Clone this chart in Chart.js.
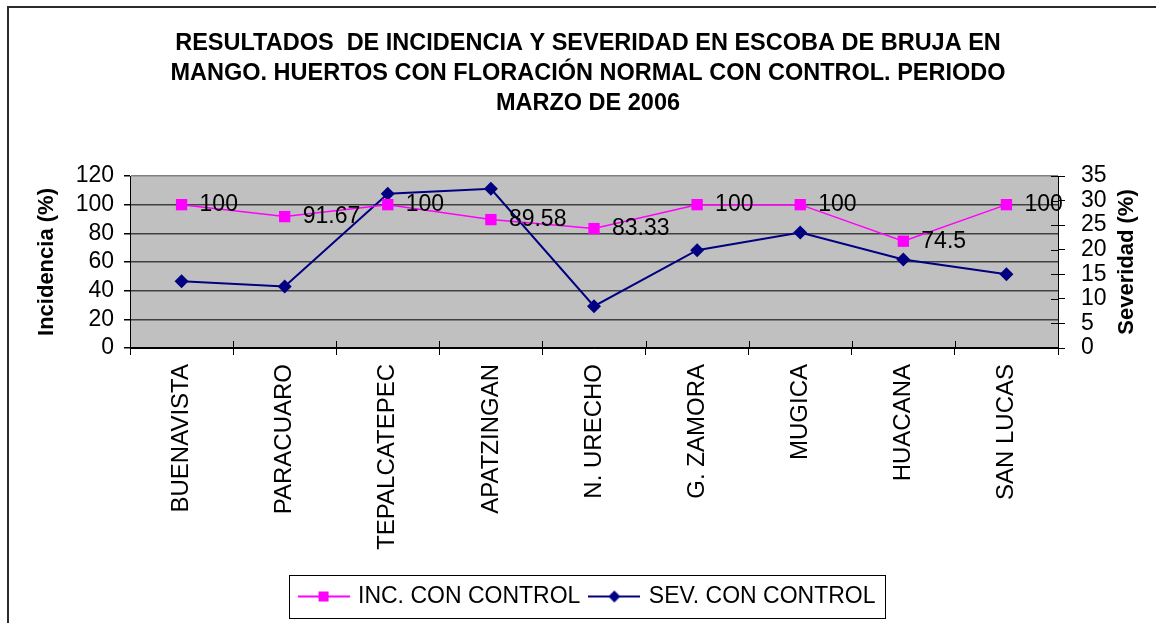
<!DOCTYPE html>
<html><head><meta charset="utf-8">
<script src="https://cdn.jsdelivr.net/npm/chart.js@4.4.1/dist/chart.umd.min.js"></script>
<style>html,body{margin:0;padding:0;background:#fff;} canvas{display:block;}</style>
</head><body>
<canvas id="c" width="1156" height="623"></canvas>
<script>
const categories = ['BUENAVISTA','PARACUARO','TEPALCATEPEC','APATZINGAN','N. URECHO','G. ZAMORA','MUGICA','HUACANA','SAN LUCAS'];
const incidencia = [100, 91.67, 100, 89.58, 83.33, 100, 100, 74.5, 100];
const severidad = [13.6, 12.5, 31.4, 32.4, 8.5, 19.9, 23.5, 18.0, 15.0];
const seriesNames = ['INC. CON CONTROL', 'SEV. CON CONTROL'];
const titleLines = ['RESULTADOS  DE INCIDENCIA Y SEVERIDAD EN ESCOBA DE BRUJA EN', 'MANGO. HUERTOS CON FLORACIÓN NORMAL CON CONTROL. PERIODO', 'MARZO DE 2006'];
const leftAxisTitle = 'Incidencia (%)';
const rightAxisTitle = 'Severidad (%)';
const leftRange = [0, 120, 20];
const rightRange = [0, 35, 5];

const FAMILY = '"Liberation Sans", Arial, sans-serif';
Chart.defaults.font.family = FAMILY;
Chart.defaults.color = '#000';

const INC_COLOR = '#FF00FF';
const SEV_COLOR = '#000080';

function legendIcon(color, shape) {
  const c = document.createElement('canvas');
  c.width = 52; c.height = 16;
  const g = c.getContext('2d');
  g.strokeStyle = color; g.lineWidth = 2;
  g.beginPath(); g.moveTo(0, 8); g.lineTo(52, 8); g.stroke();
  g.fillStyle = color;
  if (shape === 'rect') { g.fillRect(21, 3, 10, 10); }
  else { g.beginPath(); g.moveTo(26, 2); g.lineTo(32, 8); g.lineTo(26, 14); g.lineTo(20, 8); g.closePath(); g.fill(); }
  return c;
}

const decorations = {
  id: 'decorations',
  beforeDraw(chart) {
    const {ctx, chartArea: a} = chart;
    ctx.save();
    ctx.fillStyle = '#fff';
    ctx.fillRect(0, 0, chart.width, chart.height);
    ctx.fillStyle = '#C0C0C0';
    ctx.fillRect(a.left, a.top, a.right - a.left, a.bottom - a.top);
    ctx.strokeStyle = '#2b2b2b'; ctx.lineWidth = 2;
    ctx.beginPath(); ctx.moveTo(8, chart.height); ctx.lineTo(8, 7); ctx.lineTo(chart.width, 7); ctx.stroke();
    ctx.restore();
  },
  beforeDatasetsDraw(chart) {
    const {ctx, chartArea: a} = chart;
    const xs = chart.scales.x, yr = chart.scales.y1;
    ctx.save();
    ctx.strokeStyle = '#000'; ctx.lineWidth = 1;
    ctx.beginPath();
    for (let i = 0; i <= categories.length; i++) {
      const px = Math.round(xs.getPixelForValue(i - 0.5)) + 0.5;
      ctx.moveTo(px, a.bottom - 7); ctx.lineTo(px, a.bottom);
    }
    yr.ticks.forEach(t => {
      const py = Math.round(yr.getPixelForValue(t.value)) + 0.5;
      ctx.moveTo(a.right - 7, py); ctx.lineTo(a.right, py);
    });
    ctx.stroke();
    ctx.restore();
  },
  afterDatasetsDraw(chart) {
    const ctx = chart.ctx;
    const meta = chart.getDatasetMeta(0);
    const ds = chart.data.datasets[0];
    ctx.save();
    ctx.font = '23px ' + FAMILY;
    ctx.fillStyle = '#000'; ctx.textAlign = 'left'; ctx.textBaseline = 'middle';
    meta.data.forEach((pt, i) => { ctx.fillText(String(ds.data[i]), pt.x + 18, pt.y); });
    ctx.restore();
  },
  afterDraw(chart) {
    const {ctx, chartArea: a} = chart;
    ctx.save();
    ctx.font = 'bold 22px ' + FAMILY;
    ctx.fillStyle = '#000'; ctx.textAlign = 'center'; ctx.textBaseline = 'middle';
    ctx.translate(1127, (a.top + a.bottom) / 2);
    ctx.rotate(-Math.PI / 2);
    ctx.fillText(rightAxisTitle, 0, 0);
    ctx.restore();
    const hb = chart.legend.legendHitBoxes;
    if (hb && hb.length) {
      const l = Math.min(...hb.map(h => h.left)) - 12;
      const r = Math.max(...hb.map(h => h.left + h.width)) + 9;
      const t = hb[0].top - 10, b = hb[0].top + hb[0].height + 10;
      ctx.save();
      ctx.strokeStyle = '#000'; ctx.lineWidth = 1;
      ctx.strokeRect(Math.round(l) + 0.5, Math.round(t) + 0.5, Math.round(r - l), Math.round(b - t));
      ctx.restore();
    }
  }
};

const icons = [legendIcon(INC_COLOR, 'rect'), legendIcon(SEV_COLOR, 'diamond')];

new Chart(document.getElementById('c'), {
  type: 'line',
  data: {
    labels: categories,
    datasets: [
      { label: seriesNames[0], data: incidencia, yAxisID: 'y', borderColor: INC_COLOR, backgroundColor: INC_COLOR,
        borderWidth: 1.5, pointStyle: 'rect', pointRadius: 8, pointBorderWidth: 0, tension: 0 },
      { label: seriesNames[1], data: severidad, yAxisID: 'y1', borderColor: SEV_COLOR, backgroundColor: SEV_COLOR,
        borderWidth: 2, pointStyle: 'rectRot', pointRadius: 7, pointBorderWidth: 0, tension: 0 }
    ]
  },
  options: {
    responsive: false, animation: false, devicePixelRatio: 1, events: [],
    layout: { padding: { left: 20, right: 0, top: 0, bottom: 5 } },
    plugins: {
      tooltip: { enabled: false },
      title: { display: true, text: titleLines, color: '#000',
        font: { size: 23.5, weight: 'bold', lineHeight: '30px' }, padding: { top: 29, bottom: 57 } },
      legend: { position: 'bottom', align: 'center',
        labels: { usePointStyle: true, pointStyleWidth: 46, boxHeight: 16, padding: 11, color: '#000',
          font: { size: 23 },
          generateLabels: (chart) => seriesNames.map((n, i) => ({ text: n, pointStyle: icons[i], fillStyle: 'transparent',
            strokeStyle: 'transparent', lineWidth: 0, hidden: false, datasetIndex: i, fontColor: '#000' })) } }
    },
    scales: {
      x: { type: 'category', offset: true,
        grid: { display: true, offset: true, drawOnChartArea: false, drawTicks: true, tickLength: 7, color: '#000', lineWidth: 1 },
        border: { display: true, color: '#000', width: 1 },
        ticks: { autoSkip: false, minRotation: 90, maxRotation: 90, padding: 9, color: '#000', font: { size: 24 } },
        afterFit(s) { s.height = 226; } },
      y: { position: 'left', min: leftRange[0], max: leftRange[1],
        ticks: { autoSkip: false, stepSize: leftRange[2], padding: 10, color: '#000', font: { size: 23 } },
        grid: { color: c => (c.tick && c.tick.value === leftRange[1]) ? '#808080' : (c.tick && c.tick.value === 0 ? '#000' : '#404040'),
          lineWidth: 1.5, tickColor: '#000', tickLength: 6, drawTicks: true },
        border: { display: true, color: '#000', width: 1 },
        title: { display: true, text: leftAxisTitle, color: '#000', font: { size: 22, weight: 'bold' }, padding: { top: 14, bottom: 0 } },
        afterFit(s) { s.width = 110; } },
      y1: { position: 'right', min: rightRange[0], max: rightRange[1],
        ticks: { autoSkip: false, stepSize: rightRange[2], padding: 16, color: '#000', font: { size: 23 } },
        grid: { drawOnChartArea: false, tickLength: 7, color: '#000', lineWidth: 1 },
        border: { display: true, color: '#000', width: 1 },
        afterFit(s) { s.width = 98; } }
    }
  },
  plugins: [decorations]
});
</script>
</body></html>
